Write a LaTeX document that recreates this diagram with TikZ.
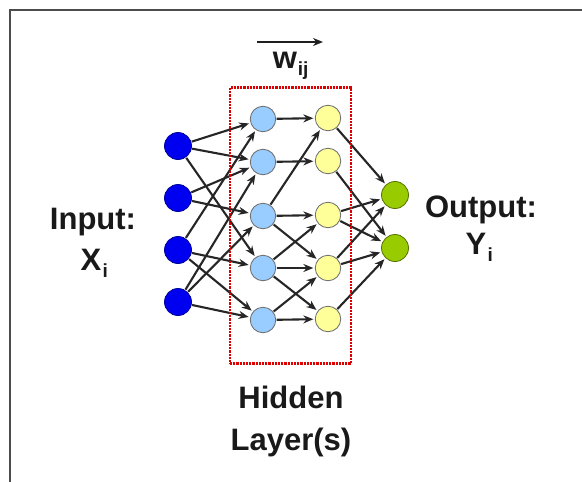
\documentclass[tikz,border=0pt]{standalone}
\usepackage{fontspec}
\setmainfont{Liberation Sans}
\usetikzlibrary{arrows.meta}
\definecolor{inblue}{RGB}{0,0,240}
\definecolor{inborder}{RGB}{0,0,150}
\definecolor{hidblue}{RGB}{153,204,255}
\definecolor{hidyellow}{RGB}{255,255,153}
\definecolor{outgreen}{RGB}{153,204,0}
\definecolor{boxred}{RGB}{220,0,0}
\begin{document}
\begin{tikzpicture}[x=1pt,y=-1pt,
  neuron/.style={circle,inner sep=0pt,line width=0.8pt},
  inp/.style={neuron,draw=inborder,fill=inblue,minimum size=27pt},
  hida/.style={neuron,draw=gray!85!black,fill=hidblue,minimum size=25.5pt},
  hidb/.style={neuron,draw=gray!85!black,fill=hidyellow,minimum size=25.5pt},
  outp/.style={neuron,draw=outgreen!55!black,fill=outgreen,minimum size=27pt},
  edge/.style={-{Stealth[length=10pt,width=8pt]},line width=2.1pt,draw=black!85,shorten >=1.5pt,shorten <=0.5pt},
  lbl/.style={font=\bfseries\fontsize{31}{37}\selectfont,anchor=base,inner sep=0pt,text=black!90},
  sub/.style={font=\bfseries\fontsize{19}{19}\selectfont,anchor=base,inner sep=0pt,text=black!90},
  hidbox/.style={draw=boxred,line width=2.8pt,dash pattern=on 2.2pt off 1pt}
]
\useasboundingbox (0,0) rectangle (582,482);
% frame
\draw[line width=2pt,draw=black!70] (10,482) -- (10,10) -- (582,10);

% input layer
\node[inp] (i1) at (178,146) {};
\node[inp] (i2) at (178,198) {};
\node[inp] (i3) at (178,250) {};
\node[inp] (i4) at (178,302) {};
% first hidden layer
\node[hida] (h1) at (263,119) {};
\node[hida] (h2) at (263,162) {};
\node[hida] (h3) at (263,216) {};
\node[hida] (h4) at (263,268) {};
\node[hida] (h5) at (263,320) {};
% second hidden layer
\node[hidb] (g1) at (328,118) {};
\node[hidb] (g2) at (328,161) {};
\node[hidb] (g3) at (328,215) {};
\node[hidb] (g4) at (328,268) {};
\node[hidb] (g5) at (328,319) {};
% output layer
\node[outp] (o1) at (395,195) {};
\node[outp] (o2) at (395,248) {};

% input -> hidden 1
\foreach \a/\b in {i1/h1,i1/h2,i1/h4,i2/h2,i2/h3,i3/h1,i3/h4,i3/h5,i4/h2,i4/h3,i4/h5}
  \draw[edge] (\a) -- (\b);
% hidden 1 -> hidden 2
\foreach \a/\b in {h1/g1,h2/g2,h3/g1,h3/g3,h3/g4,h4/g3,h4/g4,h4/g5,h5/g4,h5/g5}
  \draw[edge] (\a) -- (\b);
% hidden 2 -> output
\foreach \a/\b in {g1/o1,g2/o2,g3/o1,g3/o2,g4/o1,g4/o2,g5/o2}
  \draw[edge] (\a) -- (\b);

% hidden layer box
\node[hidbox,minimum width=121pt,minimum height=276pt,inner sep=0pt] (box) at (290.5,225.5) {};

% weight label
\node[lbl] (w) at (285,68) {w};
\node[sub,anchor=base west] (wsub) at ([xshift=0.5pt,yshift=-7pt]w.base east) {ij};
\coordinate (wl) at (257,42);
\coordinate (wr) at (323,42);
\draw[-{Stealth[length=10pt,width=8pt]},line width=2pt,draw=black!88] (wl) -- (wr);

% input label
\node[lbl] (inlab) at (93,229) {Input:};
\node[lbl] (xlab) at (91,270) {X};
\node[sub,anchor=base west] (xsub) at ([xshift=1pt,yshift=-7pt]xlab.base east) {i};

% output label
\node[lbl] (outlab) at (481,217) {Output:};
\node[lbl] (ylab) at (476,254) {Y};
\node[sub,anchor=base west] (ysub) at ([xshift=1pt,yshift=-7pt]ylab.base east) {i};

% hidden label
\node[lbl] (hidlab) at (291,408) {Hidden};
\node[lbl] (laylab) at (291,450) {Layer(s)};
\end{tikzpicture}
\end{document}
